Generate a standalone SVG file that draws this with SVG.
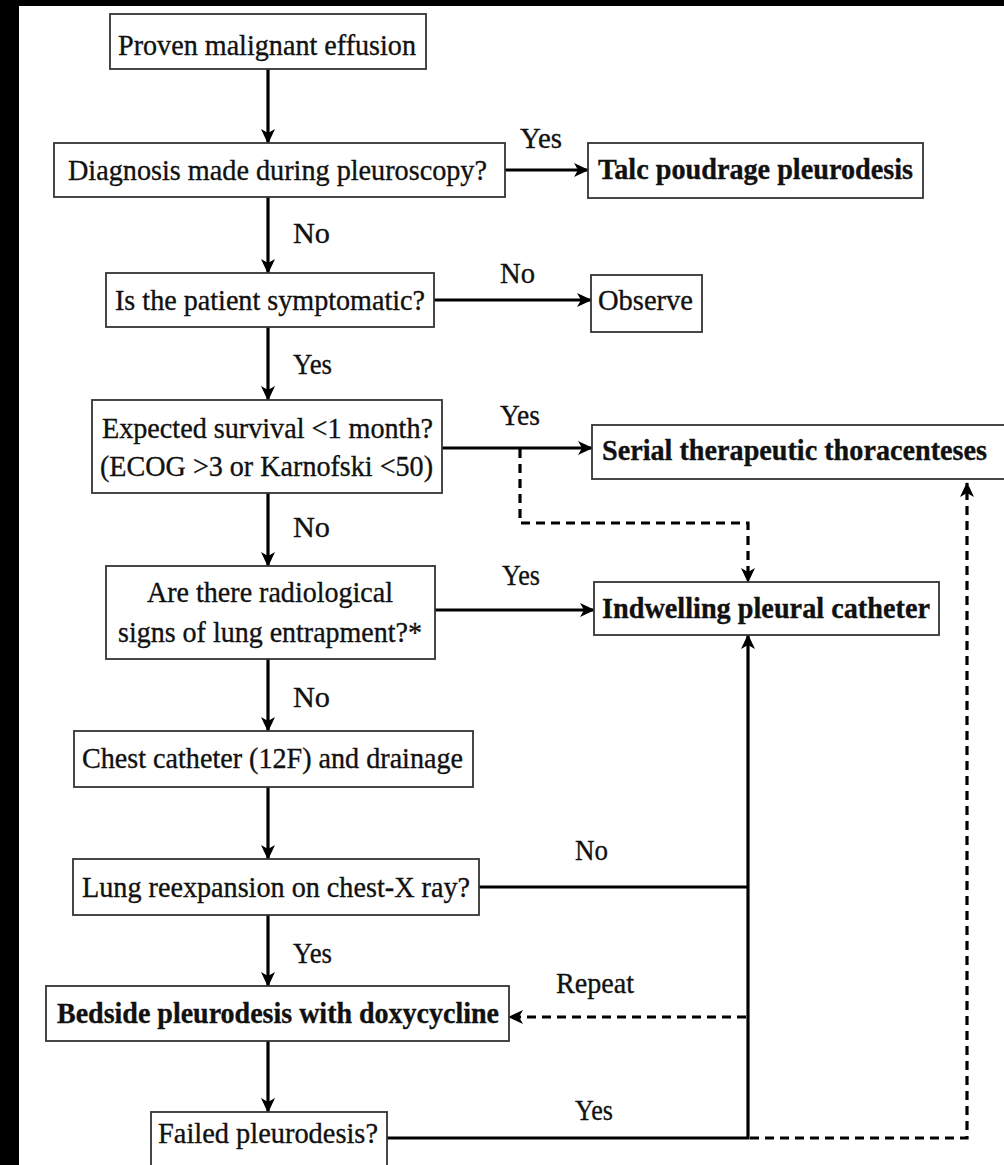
<svg xmlns="http://www.w3.org/2000/svg" width="1004" height="1165" viewBox="0 0 1004 1165">
<style>
.box{fill:#fff;stroke:#333;stroke-width:1.8}
.t{font-family:"Liberation Serif","Times New Roman",serif;font-size:30px;fill:#111;stroke:#111;stroke-width:0.35}
.b{font-weight:bold}
.c{fill:none;stroke:#000;stroke-width:3.2}
.d{stroke-dasharray:9 6}
</style>
<defs>
<marker id="ah" markerUnits="userSpaceOnUse" markerWidth="15" markerHeight="14" viewBox="0 0 15 14" refX="14" refY="7" orient="auto">
<path d="M0,0 L15,7 L0,14 L4,7 Z" fill="#000"/>
</marker>
</defs>
<rect x="0" y="0" width="1004" height="1165" fill="#fff"/>
<rect x="0" y="0" width="19" height="1165" fill="#000"/>
<rect x="0" y="0" width="1004" height="6" fill="#000"/>

<g id="connectors">
<path class="c" d="M268,69 V143" marker-end="url(#ah)"/>
<path class="c" d="M268,197 V273" marker-end="url(#ah)"/>
<path class="c" d="M505,170 H588" marker-end="url(#ah)"/>
<path class="c" d="M434,300 H591" marker-end="url(#ah)"/>
<path class="c" d="M268,327 V400" marker-end="url(#ah)"/>
<path class="c" d="M442,448 H592" marker-end="url(#ah)"/>
<path class="c d" d="M520,449 V523 H748 V582" marker-end="url(#ah)"/>
<path class="c" d="M268,493 V566" marker-end="url(#ah)"/>
<path class="c" d="M435,610 H594" marker-end="url(#ah)"/>
<path class="c" d="M268,659 V731" marker-end="url(#ah)"/>
<path class="c" d="M268,787 V859" marker-end="url(#ah)"/>
<path class="c" d="M268,915 V986" marker-end="url(#ah)"/>
<path class="c" d="M268,1041 V1112" marker-end="url(#ah)"/>
<path class="c" d="M479,887 H748"/>
<path class="c" d="M387,1138 H748 V635" marker-end="url(#ah)"/>
<path class="c d" d="M746,1017 H509" marker-end="url(#ah)"/>
<path class="c d" d="M750,1138 H967 V483" marker-end="url(#ah)"/>
<text class="t" x="520" y="148" textLength="42" lengthAdjust="spacingAndGlyphs">Yes</text>
<text class="t" x="293" y="243" textLength="37" lengthAdjust="spacingAndGlyphs">No</text>
<text class="t" x="500" y="283" textLength="35" lengthAdjust="spacingAndGlyphs">No</text>
<text class="t" x="293" y="374" textLength="39" lengthAdjust="spacingAndGlyphs">Yes</text>
<text class="t" x="500" y="425" textLength="40" lengthAdjust="spacingAndGlyphs">Yes</text>
<text class="t" x="293" y="537" textLength="37" lengthAdjust="spacingAndGlyphs">No</text>
<text class="t" x="502" y="585" textLength="38" lengthAdjust="spacingAndGlyphs">Yes</text>
<text class="t" x="293" y="707" textLength="37" lengthAdjust="spacingAndGlyphs">No</text>
<text class="t" x="575" y="860" textLength="33" lengthAdjust="spacingAndGlyphs">No</text>
<text class="t" x="293" y="963" textLength="39" lengthAdjust="spacingAndGlyphs">Yes</text>
<text class="t" x="556" y="993" textLength="78" lengthAdjust="spacingAndGlyphs">Repeat</text>
<text class="t" x="575" y="1120" textLength="38" lengthAdjust="spacingAndGlyphs">Yes</text>
</g>

<g id="n1"><rect class="box" x="110" y="14" width="316" height="55"/>
<text class="t" x="118" y="55" textLength="298" lengthAdjust="spacingAndGlyphs">Proven malignant effusion</text></g>

<g id="n2"><rect class="box" x="54" y="143" width="451" height="54"/>
<text class="t" x="68" y="180" textLength="419" lengthAdjust="spacingAndGlyphs">Diagnosis made during pleuroscopy?</text></g>

<g id="n3"><rect class="box" x="588" y="143" width="335" height="55"/>
<text class="t b" x="598" y="179" textLength="315" lengthAdjust="spacingAndGlyphs">Talc poudrage pleurodesis</text></g>

<g id="n4"><rect class="box" x="106" y="273" width="328" height="54"/>
<text class="t" x="115" y="310" textLength="310" lengthAdjust="spacingAndGlyphs">Is the patient symptomatic?</text></g>

<g id="n5"><rect class="box" x="591" y="275" width="111" height="57"/>
<text class="t" x="598" y="310" textLength="95" lengthAdjust="spacingAndGlyphs">Observe</text></g>

<g id="n6"><rect class="box" x="92" y="400" width="350" height="93"/>
<text class="t" x="102" y="438" textLength="331" lengthAdjust="spacingAndGlyphs">Expected survival &lt;1 month?</text>
<text class="t" x="100" y="476" textLength="333" lengthAdjust="spacingAndGlyphs">(ECOG &gt;3 or Karnofski &lt;50)</text></g>

<g id="n7"><rect class="box" x="592" y="425" width="420" height="54"/>
<text class="t b" x="602" y="460" textLength="385" lengthAdjust="spacingAndGlyphs">Serial therapeutic thoracenteses</text></g>

<g id="n8"><rect class="box" x="106" y="566" width="329" height="93"/>
<text class="t" x="147" y="602" textLength="246" lengthAdjust="spacingAndGlyphs">Are there radiological</text>
<text class="t" x="118" y="642" textLength="304" lengthAdjust="spacingAndGlyphs">signs of lung entrapment?*</text></g>

<g id="n9"><rect class="box" x="594" y="582" width="345" height="53"/>
<text class="t b" x="602" y="618" textLength="328" lengthAdjust="spacingAndGlyphs">Indwelling pleural catheter</text></g>

<g id="n10"><rect class="box" x="74" y="731" width="399" height="56"/>
<text class="t" x="82" y="768" textLength="381" lengthAdjust="spacingAndGlyphs">Chest catheter (12F) and drainage</text></g>

<g id="n11"><rect class="box" x="73" y="859" width="406" height="56"/>
<text class="t" x="82" y="897" textLength="388" lengthAdjust="spacingAndGlyphs">Lung reexpansion on chest-X ray?</text></g>

<g id="n12"><rect class="box" x="46" y="986" width="463" height="55"/>
<text class="t b" x="57" y="1023" textLength="442" lengthAdjust="spacingAndGlyphs">Bedside pleurodesis with doxycycline</text></g>

<g id="n13"><rect class="box" x="151" y="1112" width="236" height="63"/>
<text class="t" x="158" y="1143" textLength="220" lengthAdjust="spacingAndGlyphs">Failed pleurodesis?</text></g>
</svg>
